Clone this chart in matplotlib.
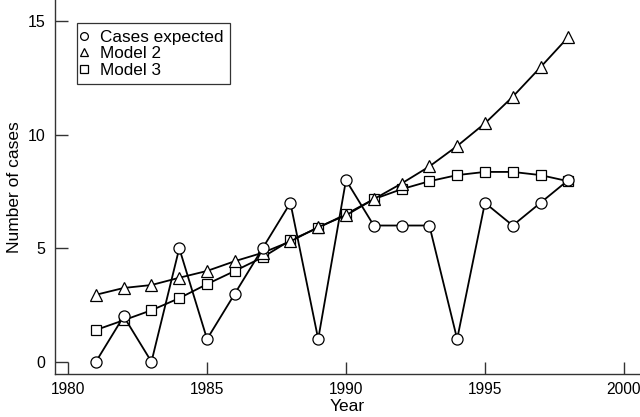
import matplotlib
matplotlib.use("Agg")
import matplotlib.pyplot as plt

# data
years = list(range(1981, 1999))
cases_expected = [0, 2, 0, 5, 1, 3, 5, 7, 1, 8, 6, 6, 6, 1, 7, 6, 7, 8]
model_2 = [2.95, 3.25, 3.38, 3.7, 4.0, 4.43, 4.8, 5.3, 5.93, 6.45,
           7.16, 7.85, 8.6, 9.5, 10.5, 11.67, 12.97, 14.3]
model_3 = [1.4, 1.83, 2.27, 2.8, 3.42, 4.0, 4.6, 5.35, 5.9, 6.5,
           7.16, 7.6, 7.95, 8.22, 8.36, 8.36, 8.22, 7.95]

x_ticks = [1980, 1985, 1990, 1995, 2000]
y_ticks = [0, 5, 10, 15]

plt.rcParams["font.family"] = ["Liberation Sans", "DejaVu Sans"]

fig = plt.figure(figsize=(6.4, 4.17), dpi=100)
ax = fig.add_axes([0.086, 0.103, 0.914, 0.897])

marker_style = dict(color="black", linewidth=1.3,
                    markerfacecolor="white", markeredgecolor="black",
                    markeredgewidth=0.9)

ax.plot(years, model_3, marker="s", markersize=7.5, label="Model 3", **marker_style)
ax.plot(years, model_2, marker="^", markersize=8, label="Model 2", **marker_style)
ax.plot(years, cases_expected, marker="o", markersize=8, label="Cases expected", **marker_style)

ax.set_xlim(1979.53, 2000.58)
ax.set_ylim(-0.54, 15.93)
ax.set_xticks(x_ticks)
ax.set_yticks(y_ticks)

for side in ["top", "right"]:
    ax.spines[side].set_visible(False)
for side in ["left", "bottom"]:
    ax.spines[side].set_color("#333333")
    ax.spines[side].set_linewidth(1.0)

ax.tick_params(direction="in", length=9, width=1.0, color="#333333",
               labelsize=11.5)
ax.tick_params(axis="y", pad=7)
ax.tick_params(axis="x", pad=6, labelsize=11.2)

ax.set_xlabel("Year", fontsize=12.5, labelpad=1)
ax.set_ylabel("Number of cases", fontsize=12.5, labelpad=4)

handles, labels = ax.get_legend_handles_labels()
order = [2, 1, 0]
leg = ax.legend([handles[i] for i in order], [labels[i] for i in order],
                loc="upper left", bbox_to_anchor=(0.0376, 0.9385),
                borderaxespad=0, fontsize=12.3, frameon=True, fancybox=False,
                handlelength=0, handletextpad=0.95, borderpad=0.4,
                labelspacing=0.08, markerscale=0.7)
leg.get_frame().set_edgecolor("black")
leg.get_frame().set_linewidth(0.9)

fig.savefig("out.png", dpi=100)
